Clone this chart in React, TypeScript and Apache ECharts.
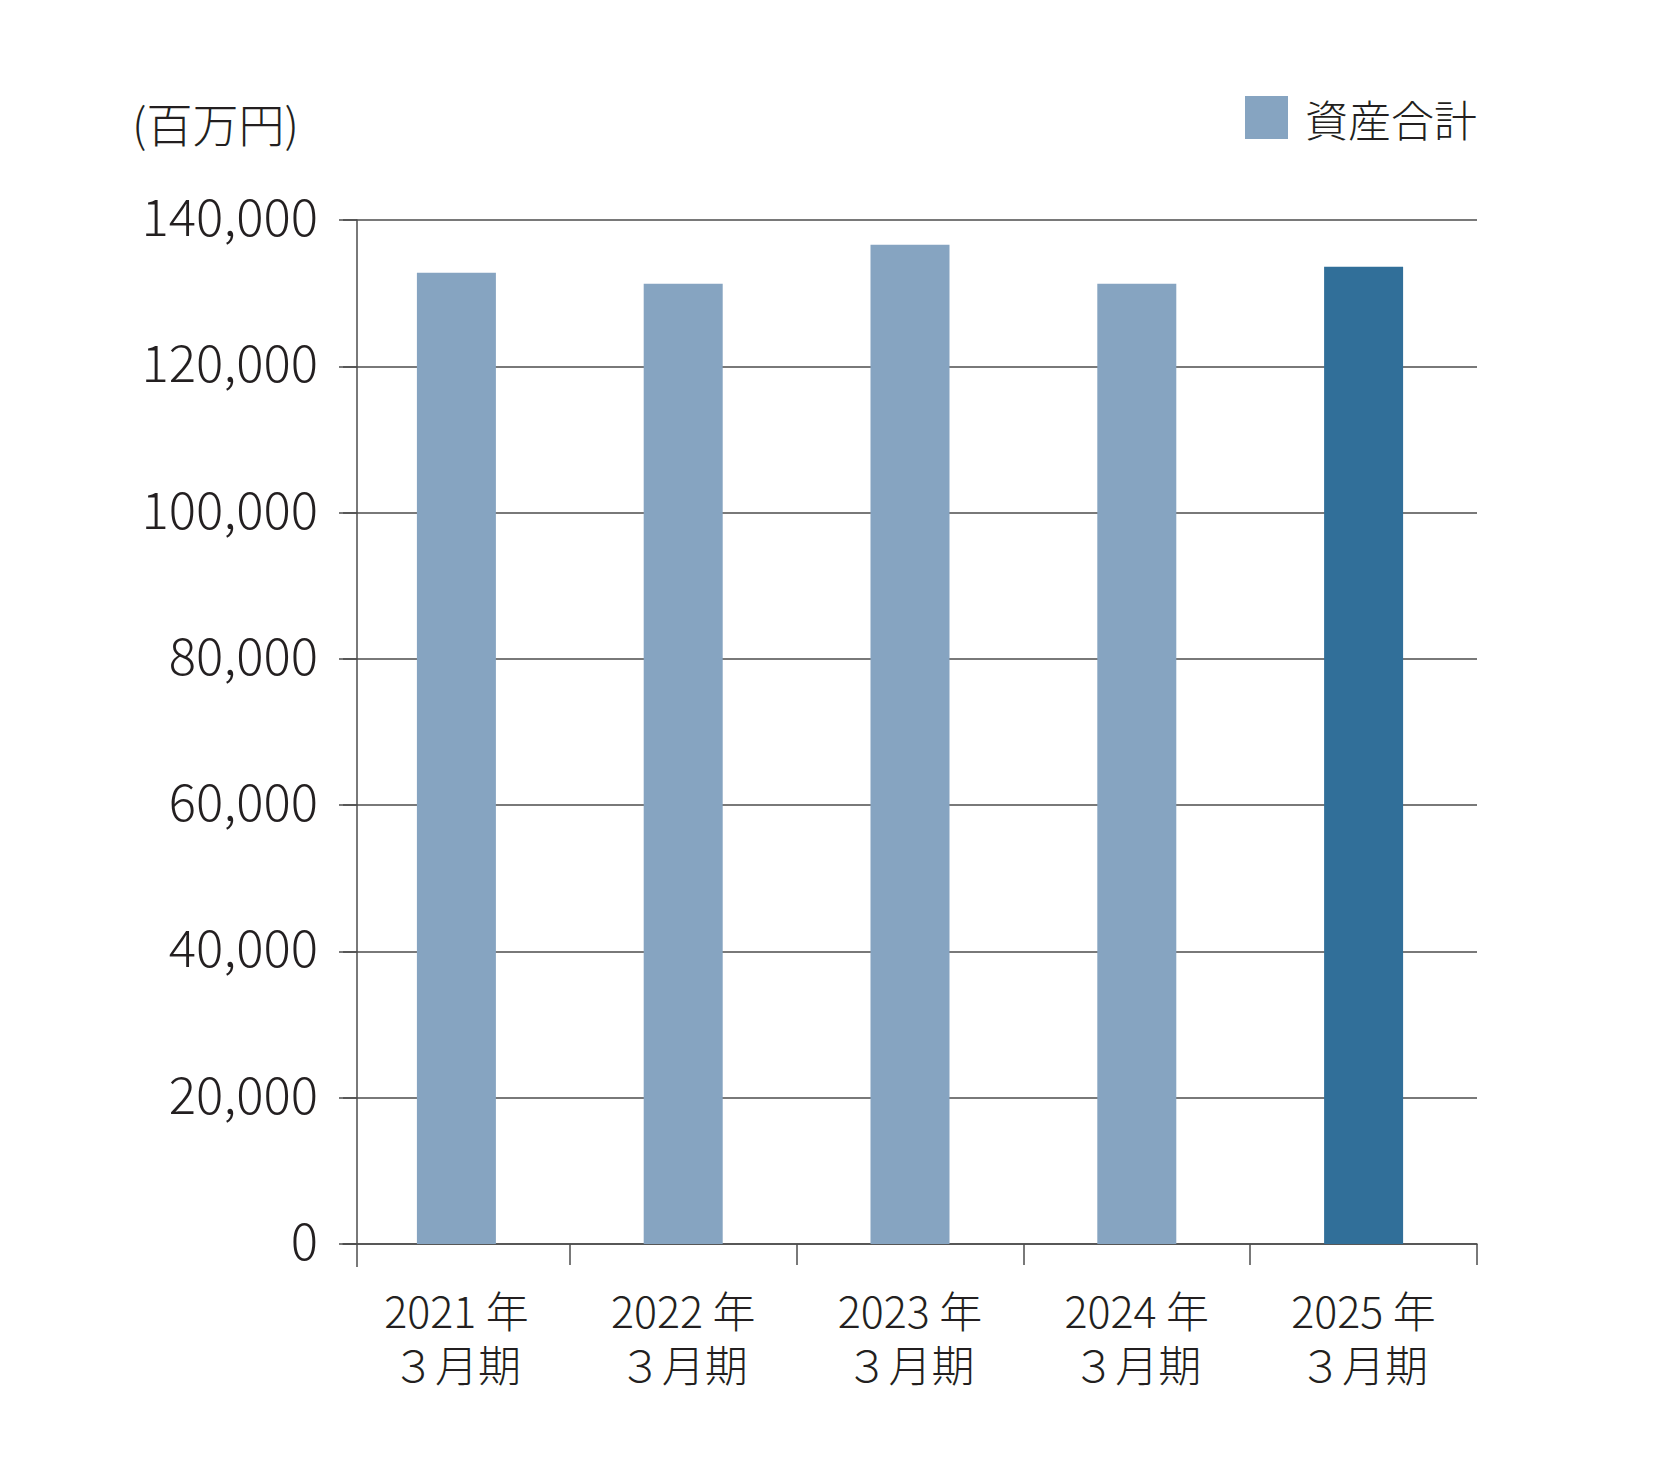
import { useEffect, useRef } from 'react';
import * as echarts from 'echarts';

// 決算期と資産合計（百万円）
const periods = ['2021 年\n３月期', '2022 年\n３月期', '2023 年\n３月期', '2024 年\n３月期', '2025 年\n３月期'];
const totalAssets = [132800, 131300, 136600, 131300, 133600];
const seriesName = '資産合計';
const unitLabel = '(百万円)';
const yMin = 0;
const yMax = 140000;
const yInterval = 20000;

const colors = {
  bar: '#86a4c1',
  barLatest: '#316f99',
  line: '#4d4d4d',
  text: '#231f20',
};

const FONT = "'Noto Sans CJK JP Light', 'Noto Sans CJK JP DemiLight', 'Noto Sans CJK JP', 'Noto Sans', sans-serif";

// レイアウト
const GRID_LEFT = 343;
const GRID_RIGHT = 190;
const GRID_TOP = 220;
const GRID_HEIGHT = 1024;
const AXIS_SHIFT = 14; // 縦軸を帯の左端から右へずらす

export default function App() {
  const chartRef = useRef<HTMLDivElement>(null);

  useEffect(() => {
    if (!chartRef.current) return;
    const chart = echarts.init(chartRef.current, undefined, { renderer: 'svg' });

    const lastIndex = periods.length - 1;
    const barData = totalAssets.map((v, i) =>
      i === lastIndex ? { value: v, itemStyle: { color: colors.barLatest } } : v
    );

    const axisX = GRID_LEFT + AXIS_SHIFT;
    const zeroY = GRID_TOP + GRID_HEIGHT;

    const option: echarts.EChartsOption = {
      animation: false,
      backgroundColor: '#ffffff',
      textStyle: { fontFamily: FONT },
      grid: {
        left: GRID_LEFT,
        right: GRID_RIGHT,
        top: GRID_TOP,
        height: GRID_HEIGHT,
      },
      legend: {
        left: 1240,
        top: 91,
        icon: 'rect',
        itemWidth: 43,
        itemHeight: 43,
        data: [seriesName],
        textStyle: {
          fontFamily: FONT,
          fontSize: 43,
          fontWeight: 300,
          color: colors.text,
          padding: [0, 0, 0, 12],
        },
      },
      graphic: [
        {
          type: 'text',
          x: 132,
          y: 122,
          style: {
            text: unitLabel,
            font: `300 46px ${FONT}`,
            fill: colors.text,
            verticalAlign: 'middle',
          },
        },
        {
          // 縦軸の下への延長
          type: 'line',
          shape: { x1: axisX, y1: zeroY, x2: axisX, y2: zeroY + 23 },
          style: { stroke: colors.line, lineWidth: 1.5 },
        },
      ],
      xAxis: {
        type: 'category',
        data: periods,
        boundaryGap: true,
        axisLine: { lineStyle: { color: colors.line, width: 1.5 } },
        axisTick: {
          show: true,
          length: 21,
          interval: (index: number) => index !== 0,
          lineStyle: { color: colors.line, width: 1.5 },
        },
        axisLabel: {
          margin: 38,
          fontFamily: FONT,
          fontSize: 43,
          fontWeight: 300,
          lineHeight: 54,
          color: colors.text,
        },
      },
      yAxis: {
        type: 'value',
        min: yMin,
        max: yMax,
        interval: yInterval,
        offset: -AXIS_SHIFT,
        axisLine: { show: true, lineStyle: { color: colors.line, width: 1.5 } },
        axisTick: { show: true, length: 18, lineStyle: { color: colors.line, width: 1.5 } },
        axisLabel: {
          margin: 39,
          color: colors.text,
          formatter: (v: number) => `{n|${v.toLocaleString('en-US')}}`,
          rich: {
            n: {
              fontFamily: FONT,
              fontSize: 51,
              fontWeight: 300,
              color: colors.text,
              padding: [0, 0, 12, 0],
            },
          },
        },
        splitLine: { show: true, lineStyle: { color: colors.line, width: 1.5 } },
      },
      series: [
        {
          name: seriesName,
          type: 'bar',
          data: barData,
          barWidth: 79,
          itemStyle: { color: colors.bar },
        },
      ],
    };

    chart.setOption(option);
    return () => {
      chart.dispose();
    };
  }, []);

  return (
    <div
      ref={chartRef}
      style={{ position: 'absolute', left: 0, top: 0, width: 1667, height: 1459, background: '#ffffff' }}
    />
  );
}
